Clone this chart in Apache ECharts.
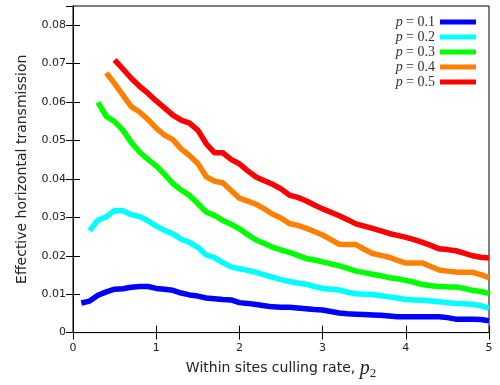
<!DOCTYPE html>
<html><head><meta charset="utf-8">
<script src="https://cdn.jsdelivr.net/npm/echarts@6/dist/echarts.min.js"></script>
<style>html,body{margin:0;padding:0;background:#fff}#c{width:500px;height:385px}</style>
</head><body><div id="c"></div>
<script>
const xs = [0.1,0.2,0.3,0.4,0.5,0.6,0.7,0.8,0.9,1.0,
 1.1,1.2,1.3,1.4,1.5,1.6,1.7,1.8,1.9,2.0,
 2.1,2.2,2.3,2.4,2.5,2.6,2.7,2.8,2.9,3.0,
 3.1,3.2,3.3,3.4,3.5,3.6,3.7,3.8,3.9,4.0,
 4.1,4.2,4.3,4.4,4.5,4.6,4.7,4.8,4.9,5.0];
const seriesNames = ['0.1','0.2','0.3','0.4','0.5'];
const p01 = [0.0077,0.0082,0.0097,0.0106,0.0113,0.0114,0.0118,0.0120,0.0120,0.0115,
 0.0113,0.0110,0.0103,0.0098,0.0095,0.0090,0.0088,0.0086,0.0085,0.0078,
 0.0076,0.0073,0.0070,0.0067,0.0066,0.0066,0.0064,0.0062,0.0060,0.0059,
 0.0055,0.0051,0.0049,0.0048,0.0047,0.0046,0.0045,0.0043,0.0041,0.0041,
 0.0041,0.0041,0.0041,0.0041,0.0039,0.0035,0.0035,0.0035,0.0034,0.0031];
const p02 = [null,0.0265,0.0293,0.0301,0.0318,0.0317,0.0307,0.0302,0.0291,0.0277,
 0.0266,0.0257,0.0243,0.0235,0.0222,0.0202,0.0195,0.0182,0.0171,0.0166,
 0.0162,0.0157,0.0150,0.0144,0.0138,0.0133,0.0129,0.0126,0.0120,0.0115,
 0.0113,0.0111,0.0105,0.0101,0.0100,0.0099,0.0096,0.0093,0.0090,0.0086,
 0.0085,0.0084,0.0082,0.0080,0.0078,0.0076,0.0075,0.0074,0.0070,0.0063];
const p03 = [null,null,0.0599,0.0563,0.0549,0.0527,0.0495,0.0470,0.0451,0.0434,
 0.0412,0.0388,0.0371,0.0357,0.0336,0.0314,0.0305,0.0292,0.0282,0.0270,
 0.0255,0.0241,0.0232,0.0222,0.0215,0.0209,0.0201,0.0193,0.0189,0.0184,
 0.0179,0.0174,0.0167,0.0160,0.0156,0.0152,0.0148,0.0143,0.0140,0.0136,
 0.0131,0.0125,0.0122,0.0120,0.0119,0.0119,0.0115,0.0110,0.0107,0.0102];
const p04 = [null,null,null,0.0676,0.0648,0.0618,0.0588,0.0574,0.0555,0.0532,
 0.0514,0.0502,0.0478,0.0461,0.0440,0.0406,0.0394,0.0390,0.0370,0.0350,
 0.0342,0.0334,0.0322,0.0308,0.0298,0.0284,0.0279,0.0272,0.0263,0.0254,
 0.0242,0.0230,0.0229,0.0229,0.0217,0.0206,0.0201,0.0196,0.0188,0.0181,
 0.0181,0.0181,0.0172,0.0163,0.0160,0.0158,0.0157,0.0157,0.0151,0.0143];
const p05 = [null,null,null,null,0.0710,0.0686,0.0662,0.0641,0.0623,0.0603,
 0.0585,0.0566,0.0553,0.0545,0.0527,0.0492,0.0468,0.0468,0.0451,0.0439,
 0.0421,0.0405,0.0395,0.0386,0.0374,0.0358,0.0352,0.0343,0.0332,0.0322,
 0.0313,0.0304,0.0294,0.0283,0.0277,0.0271,0.0265,0.0258,0.0253,0.0248,
 0.0242,0.0235,0.0227,0.0218,0.0216,0.0213,0.0207,0.0200,0.0196,0.0194];
const xTicks = [0,1,2,3,4,5];
const yTicks = [0,0.01,0.02,0.03,0.04,0.05,0.06,0.07,0.08];
const colors = ['#0000ff','#00ffff','#00ff00','#ff8000','#ff0000'];
const allVals = [p01,p02,p03,p04,p05];

const chart = echarts.init(document.getElementById('c'), null, {renderer:'canvas'});
const tickFont = {fontFamily:'DejaVu Sans', fontSize:11, color:'#222'};
const series = allVals.map((v,k)=>({
  name: seriesNames[k], type:'line', xAxisIndex:0, yAxisIndex:0,
  data: xs.map((x,i)=>[x, v[i]]).filter(d=>d[1]!==null),
  showSymbol:false, symbol:'none', smooth:false,
  lineStyle:{color:colors[k], width:5.5, join:'round'},
  itemStyle:{color:colors[k]}, animation:false
}));
chart.setOption({
  animation:false,
  backgroundColor:'#fff',
  grid:{left:73, right:11, top:6, bottom:49, show:true, borderColor:'#000', borderWidth:1},
  legend:{
    orient:'vertical', right:24, top:15, align:'right', padding:0,
    itemWidth:36, itemHeight:5, itemGap:1, icon:'rect',
    data: seriesNames,
    formatter: n => '{i|p} {t|= ' + n + '}',
    textStyle:{color:'#333', lineHeight:14, rich:{
      i:{fontFamily:'Liberation Serif', fontStyle:'italic', fontSize:14, color:'#333'},
      t:{fontFamily:'Liberation Serif', fontSize:14, color:'#333'}
    }}
  },
  xAxis:[{
    type:'value', min:0, max:5, interval:1, position:'bottom',
    axisLine:{show:true, lineStyle:{color:'#000', width:1}},
    axisTick:{show:true, inside:true, length:7, lineStyle:{color:'#000'}},
    axisLabel:Object.assign({margin:10, formatter:v=>xTicks.includes(v)?String(v):''}, tickFont),
    splitLine:{show:false},
    name:'{a|Within sites culling rate, }{i|p}{s|2}', nameLocation:'middle', nameGap:24,
    nameTextStyle:{rich:{
      a:{fontFamily:'DejaVu Sans', fontSize:14, color:'#222'},
      i:{fontFamily:'Liberation Serif', fontStyle:'italic', fontSize:20, color:'#222'},
      s:{fontFamily:'Liberation Serif', fontSize:13, color:'#222', padding:[10,0,0,0]}
    }}
  },{
    type:'value', min:0, max:5, interval:1, position:'top',
    axisLine:{show:true, lineStyle:{color:'#000'}},
    axisTick:{show:true, inside:true, length:7, lineStyle:{color:'#000'}},
    axisLabel:{show:false}, splitLine:{show:false}
  }],
  yAxis:[{
    type:'value', min:0, max:0.085, interval:0.01, position:'left',
    axisLine:{show:true, lineStyle:{color:'#000'}},
    axisTick:{show:true, inside:true, length:7, lineStyle:{color:'#000'}},
    axisLabel:Object.assign({margin:7, showMaxLabel:false, formatter:v=>{
      const t = yTicks.find(y=>Math.abs(y-v)<1e-9);
      return t===undefined?'':(t===0?'0':t.toFixed(2));
    }}, tickFont),
    splitLine:{show:false},
    name:'Effective horizontal transmission', nameLocation:'middle', nameGap:44, nameRotate:90,
    nameTextStyle:{fontFamily:'DejaVu Sans', fontSize:14, color:'#222'}
  },{
    type:'value', min:0, max:0.085, interval:0.01, position:'right',
    axisLine:{show:true, lineStyle:{color:'#000'}},
    axisTick:{show:true, inside:true, length:7, lineStyle:{color:'#000'}},
    axisLabel:{show:false}, splitLine:{show:false}
  }],
  series: series
});
</script></body></html>
